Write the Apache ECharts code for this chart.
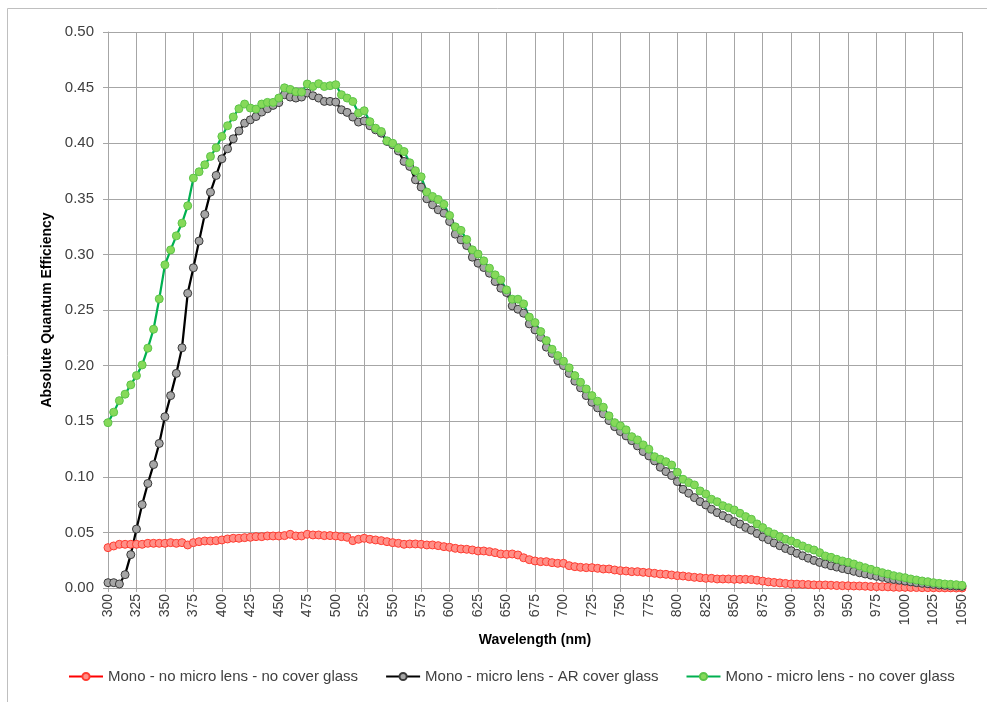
<!DOCTYPE html>
<html>
<head>
<meta charset="utf-8">
<script src="https://cdn.jsdelivr.net/npm/echarts@6/dist/echarts.min.js"></script>
<style>
    html, body { margin: 0; padding: 0; background: #fff; }
    #qe { width: 987px; height: 702px; }
</style>
</head>
<body>
<div id="qe"></div>
<script>
// wavelength (nm), one point every 5 nm
var wavelengths = [
    300, 305, 310, 315, 320, 325, 330, 335, 340, 345,
    350, 355, 360, 365, 370, 375, 380, 385, 390, 395,
    400, 405, 410, 415, 420, 425, 430, 435, 440, 445,
    450, 455, 460, 465, 470, 475, 480, 485, 490, 495,
    500, 505, 510, 515, 520, 525, 530, 535, 540, 545,
    550, 555, 560, 565, 570, 575, 580, 585, 590, 595,
    600, 605, 610, 615, 620, 625, 630, 635, 640, 645,
    650, 655, 660, 665, 670, 675, 680, 685, 690, 695,
    700, 705, 710, 715, 720, 725, 730, 735, 740, 745,
    750, 755, 760, 765, 770, 775, 780, 785, 790, 795,
    800, 805, 810, 815, 820, 825, 830, 835, 840, 845,
    850, 855, 860, 865, 870, 875, 880, 885, 890, 895,
    900, 905, 910, 915, 920, 925, 930, 935, 940, 945,
    950, 955, 960, 965, 970, 975, 980, 985, 990, 995,
    1000, 1005, 1010, 1015, 1020, 1025, 1030, 1035, 1040, 1045,
    1050
];

// Mono - no micro lens - no cover glass
var noLensNoGlass = [
    0.0363, 0.0378, 0.0393, 0.0393, 0.0393, 0.0393, 0.0393, 0.0402, 0.0402, 0.0402,
    0.0402, 0.0408, 0.0402, 0.0408, 0.0387, 0.0408, 0.0417, 0.0423, 0.0423, 0.0426,
    0.0432, 0.0441, 0.0447, 0.0447, 0.0453, 0.0456, 0.0462, 0.0462, 0.0468, 0.0468,
    0.0468, 0.0471, 0.0483, 0.0468, 0.0468, 0.0483, 0.0477, 0.0477, 0.0471, 0.0471,
    0.0468, 0.0462, 0.0456, 0.0426, 0.0438, 0.0447, 0.0438, 0.0432, 0.0426, 0.0417,
    0.0408, 0.0402, 0.0393, 0.0396, 0.0396, 0.0393, 0.0387, 0.0387, 0.0381, 0.0372,
    0.0366, 0.0357, 0.0351, 0.0348, 0.0342, 0.0333, 0.0333, 0.0327, 0.0318, 0.0306,
    0.0303, 0.0306, 0.0297, 0.0272, 0.0255, 0.0243, 0.0237, 0.0237, 0.0228, 0.0222,
    0.0222, 0.0201, 0.0192, 0.0186, 0.0183, 0.0183, 0.0177, 0.0171, 0.0171, 0.0162,
    0.0156, 0.0153, 0.0147, 0.0147, 0.0141, 0.0138, 0.0132, 0.0126, 0.0123, 0.0117,
    0.0111, 0.0108, 0.0102, 0.0096, 0.0093, 0.0087, 0.0087, 0.0081, 0.0081, 0.0081,
    0.0078, 0.0078, 0.0078, 0.0076, 0.0070, 0.0062, 0.0055, 0.0050, 0.0046, 0.0041,
    0.0037, 0.0035, 0.0033, 0.0031, 0.0028, 0.0027, 0.0027, 0.0025, 0.0022, 0.0021,
    0.0020, 0.0018, 0.0018, 0.0016, 0.0013, 0.0012, 0.0012, 0.0010, 0.0007, 0.0006,
    0.0006, 0.0005, 0.0004, 0.0003, 0.0003, 0.0002, 0.0002, 0.0001, 0.0001, 0.0000,
    0.0000
];

// Mono - micro lens - AR cover glass
var lensArGlass = [
    0.0048, 0.0048, 0.0036, 0.0120, 0.0300, 0.0530, 0.0750, 0.0940, 0.1110, 0.1300,
    0.1540, 0.1730, 0.1930, 0.2160, 0.2650, 0.2880, 0.3120, 0.3360, 0.3560, 0.3710,
    0.3860, 0.3950, 0.4040, 0.4110, 0.4180, 0.4210, 0.4240, 0.4280, 0.4310, 0.4340,
    0.4365, 0.4436, 0.4415, 0.4406, 0.4415, 0.4451, 0.4427, 0.4406, 0.4376, 0.4376,
    0.4370, 0.4301, 0.4277, 0.4235, 0.4190, 0.4200, 0.4157, 0.4120, 0.4090, 0.4016,
    0.3986, 0.3930, 0.3836, 0.3791, 0.3671, 0.3605, 0.3500, 0.3446, 0.3401, 0.3371,
    0.3296, 0.3182, 0.3131, 0.3080, 0.2975, 0.2921, 0.2882, 0.2831, 0.2756, 0.2696,
    0.2657, 0.2537, 0.2507, 0.2471, 0.2375, 0.2321, 0.2255, 0.2166, 0.2110, 0.2045,
    0.2000, 0.1930, 0.1860, 0.1800, 0.1730, 0.1670, 0.1620, 0.1566, 0.1506, 0.1451,
    0.1407, 0.1368, 0.1325, 0.1278, 0.1227, 0.1188, 0.1143, 0.1086, 0.1047, 0.1011,
    0.0957, 0.0888, 0.0852, 0.0813, 0.0777, 0.0747, 0.0708, 0.0678, 0.0651, 0.0627,
    0.0597, 0.0575, 0.0545, 0.0520, 0.0490, 0.0458, 0.0435, 0.0405, 0.0380, 0.0355,
    0.0335, 0.0312, 0.0290, 0.0268, 0.0248, 0.0230, 0.0215, 0.0200, 0.0188, 0.0175,
    0.0164, 0.0150, 0.0137, 0.0126, 0.0115, 0.0105, 0.0096, 0.0085, 0.0077, 0.0070,
    0.0062, 0.0055, 0.0048, 0.0042, 0.0038, 0.0032, 0.0027, 0.0024, 0.0020, 0.0018,
    0.0015
];

// Mono - micro lens - no cover glass
var lensNoGlass = [
    0.1487, 0.1581, 0.1685, 0.1743, 0.1827, 0.1910, 0.2006, 0.2157, 0.2327, 0.2600,
    0.2906, 0.3040, 0.3167, 0.3281, 0.3437, 0.3686, 0.3743, 0.3806, 0.3881, 0.3959,
    0.4061, 0.4157, 0.4236, 0.4310, 0.4352, 0.4316, 0.4307, 0.4352, 0.4367, 0.4367,
    0.4406, 0.4498, 0.4484, 0.4463, 0.4460, 0.4532, 0.4510, 0.4535, 0.4510, 0.4517,
    0.4526, 0.4436, 0.4406, 0.4375, 0.4271, 0.4292, 0.4194, 0.4135, 0.4105, 0.4021,
    0.4000, 0.3955, 0.3925, 0.3824, 0.3752, 0.3698, 0.3561, 0.3521, 0.3494, 0.3450,
    0.3350, 0.3248, 0.3216, 0.3134, 0.3041, 0.3003, 0.2942, 0.2876, 0.2816, 0.2771,
    0.2681, 0.2597, 0.2597, 0.2555, 0.2436, 0.2387, 0.2306, 0.2225, 0.2147, 0.2090,
    0.2040, 0.1980, 0.1910, 0.1850, 0.1790, 0.1730, 0.1680, 0.1626, 0.1548, 0.1487,
    0.1458, 0.1422, 0.1361, 0.1332, 0.1287, 0.1248, 0.1181, 0.1158, 0.1136, 0.1106,
    0.1041, 0.0978, 0.0948, 0.0927, 0.0873, 0.0846, 0.0798, 0.0776, 0.0740, 0.0722,
    0.0702, 0.0672, 0.0642, 0.0618, 0.0576, 0.0543, 0.0507, 0.0486, 0.0462, 0.0438,
    0.0423, 0.0402, 0.0378, 0.0357, 0.0342, 0.0318, 0.0288, 0.0276, 0.0258, 0.0243,
    0.0231, 0.0216, 0.0198, 0.0183, 0.0168, 0.0153, 0.0138, 0.0126, 0.0111, 0.0102,
    0.0093, 0.0081, 0.0072, 0.0063, 0.0057, 0.0048, 0.0042, 0.0036, 0.0033, 0.0030,
    0.0024
];

var seriesNames = [
    'Mono - no micro lens - no cover glass',
    'Mono - micro lens - AR cover glass',
    'Mono - micro lens - no cover glass'
];

function pairs(ys) {
    return ys.map(function (y, i) { return [wavelengths[i], y]; });
}

var labelFont = "'Liberation Sans', Arial, sans-serif";
var chart = echarts.init(document.getElementById('qe'), null, { renderer: 'canvas' });

function lineSeries(name, ys, lineColor, fill, border, width) {
    return {
        name: name,
        type: 'line',
        data: pairs(ys),
        symbol: 'circle',
        symbolSize: 8,
        showAllSymbol: true,
        animation: false,
        lineStyle: { color: lineColor, width: width },
        itemStyle: { color: fill, borderColor: border, borderWidth: 1 }
    };
}

var option = {
    backgroundColor: '#fff',
    animation: false,
    graphic: [{
        type: 'rect',
        shape: { x: 7.5, y: 8.5, width: 1000, height: 720 },
        style: { fill: 'none', stroke: '#bfbfbf', lineWidth: 1 },
        silent: true
    }],
    grid: { left: 108, right: 25, top: 32, bottom: 114 },
    legend: {
        data: seriesNames,
        left: 63,
        top: 664,
        itemGap: 27,
        itemWidth: 34,
        itemHeight: 9,
        textStyle: { fontFamily: labelFont, fontSize: 15, color: '#404040' }
    },
    xAxis: {
        type: 'value',
        min: 300,
        max: 1050,
        interval: 25,
        name: 'Wavelength (nm)',
        nameLocation: 'middle',
        nameGap: 35,
        nameTextStyle: { fontFamily: labelFont, fontSize: 14, fontWeight: 'bold', color: '#000' },
        axisLine: { lineStyle: { color: '#a6a6a6' } },
        axisTick: { show: true, length: 4, lineStyle: { color: '#a6a6a6' } },
        axisLabel: {
            rotate: 90, fontFamily: labelFont, fontSize: 14, color: '#404040', margin: 6,
            formatter: function (v) { return String(v); }
        },
        splitLine: { show: true, lineStyle: { color: '#a6a6a6', width: 1 } }
    },
    yAxis: {
        type: 'value',
        min: 0,
        max: 0.5,
        interval: 0.05,
        name: 'Absolute Quantum Efficiency',
        nameLocation: 'middle',
        nameGap: 54,
        nameTextStyle: { fontFamily: labelFont, fontSize: 14, fontWeight: 'bold', color: '#000' },
        axisLine: { show: true, lineStyle: { color: '#a6a6a6' } },
        axisTick: { show: true, length: 5, lineStyle: { color: '#a6a6a6' } },
        axisLabel: {
            fontFamily: labelFont, fontSize: 15, color: '#404040', margin: 14,
            formatter: function (v) { return v.toFixed(2); }
        },
        splitLine: { show: true, lineStyle: { color: '#a6a6a6', width: 1 } }
    },
    series: [
        lineSeries(seriesNames[0], noLensNoGlass, '#ff0000', '#ff8f87', '#ff3b30', 2),
        lineSeries(seriesNames[1], lensArGlass, '#000000', '#a6a6a6', '#3a3a3a', 2.25),
        lineSeries(seriesNames[2], lensNoGlass, '#00b050', '#86d95a', '#5cc548', 2.25)
    ]
};

chart.setOption(option);
</script>
</body>
</html>
